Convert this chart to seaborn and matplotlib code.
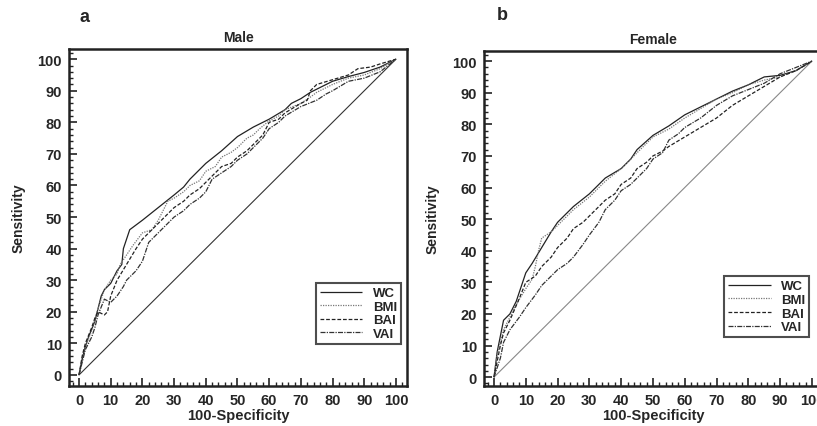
import matplotlib
matplotlib.use("Agg")
import matplotlib.pyplot as plt
import numpy as np
import pandas as pd
import seaborn as sns
from matplotlib.ticker import MultipleLocator

# ---- Male ROC curves (100-Specificity, Sensitivity) ----
male_wc_x = [0, 1, 2, 3, 5, 6, 7, 8, 10, 12, 13.5, 14, 15, 16, 20, 25, 30, 33, 35, 40, 45, 50, 55, 60, 65, 67, 70, 73, 76, 80, 85, 90, 95, 100]
male_wc_y = [0, 5, 9, 12, 17, 21, 25, 27, 29, 33, 35, 40, 43, 46, 49, 53, 57, 59.5, 62, 67, 71, 75.5, 78.5, 81, 84, 86, 87.5, 89.5, 91, 93, 94.5, 95.8, 97.5, 100]
male_bmi_x = [0, 1, 2, 4, 6, 8, 10, 12, 13, 15, 17, 20, 23, 25, 28, 30, 33, 35, 38, 40, 43, 45, 48, 50, 53, 55, 57, 60, 63, 65, 70, 73, 75, 80, 85, 90, 95, 100]
male_bmi_y = [0, 5, 9, 14, 21, 27, 30, 32, 35, 38, 41, 45, 46, 49, 55, 56, 58, 60, 61.5, 64.5, 66, 69, 70.5, 72, 75, 76, 78, 80.5, 82, 84, 86, 88, 89.5, 92, 94, 95, 97, 100]
male_bai_x = [0, 1, 2, 4, 5, 6, 8, 9, 10, 12, 15, 18, 20, 22, 25, 28, 30, 33, 35, 38, 40, 43, 45, 48, 50, 53, 55, 58, 60, 63, 65, 70, 72, 73, 75, 80, 85, 88, 92, 95, 100]
male_bai_y = [0, 6, 10, 15, 18, 20, 19, 20, 25, 30, 35, 40, 43, 45, 48, 51, 53, 55, 57, 59, 61, 64, 66, 67, 69, 71, 73, 76, 80, 81, 83, 86, 87, 90, 92, 93.5, 95, 97, 97.5, 98.5, 100]
male_vai_x = [0, 1, 2, 4, 5, 6, 8, 10, 12, 14, 15, 18, 20, 22, 25, 28, 30, 33, 35, 38, 40, 42, 45, 48, 50, 53, 55, 58, 60, 63, 65, 70, 75, 78, 80, 85, 90, 95, 100]
male_vai_y = [0, 4, 8, 12, 15, 19, 24, 23, 25, 28, 30, 33, 36, 42, 45, 48, 50, 52, 54, 56, 58, 62, 64, 66, 68, 70, 72, 75, 78, 80, 82, 85, 87, 89, 90, 93, 94, 96, 100]

# ---- Female ROC curves ----
fem_wc_x = [0, 1, 2, 3, 5, 7, 10, 12, 15, 18, 20, 25, 30, 35, 40, 43, 45, 50, 55, 60, 65, 70, 75, 80, 85, 90, 95, 100]
fem_wc_y = [0, 8, 13, 18, 20, 24, 33, 36, 41, 46, 49, 54, 58, 63, 66, 69, 72, 76.5, 79.5, 83, 85.5, 88, 90.5, 92.5, 95, 95.5, 97, 100]
fem_bmi_x = [0, 1, 2, 3, 5, 7, 10, 12, 13, 14, 15, 18, 20, 25, 30, 35, 40, 45, 50, 55, 60, 65, 70, 75, 80, 85, 90, 95, 100]
fem_bmi_y = [0, 7, 11, 15, 19, 23, 28, 31, 35, 40, 44, 46, 48, 53, 57, 62, 66, 71, 76, 78.5, 82, 85, 88, 90, 92.5, 94, 95, 97, 100]
fem_bai_x = [0, 1, 2, 3, 5, 8, 10, 13, 15, 18, 20, 23, 25, 28, 30, 33, 35, 38, 40, 43, 45, 48, 50, 53, 55, 60, 65, 70, 75, 80, 85, 90, 95, 100]
fem_bai_y = [0, 5, 10, 14, 18, 25, 30, 32, 35, 38, 41, 44, 47, 49, 51, 54, 56, 58, 61, 63, 66, 68, 70, 71.5, 73, 76, 79, 82, 86, 89, 92, 95, 97, 100]
fem_vai_x = [0, 1, 2, 3, 5, 8, 10, 13, 15, 18, 20, 23, 25, 28, 30, 33, 35, 38, 40, 43, 45, 48, 50, 53, 55, 58, 60, 65, 70, 75, 80, 85, 90, 95, 100]
fem_vai_y = [0, 3, 6, 11, 15, 19, 22, 26, 29, 32, 34, 36, 38, 42, 45, 49, 53, 56, 59, 61, 63, 66, 69, 71, 75, 77, 79, 82, 86, 89, 91, 93, 96, 98, 100]

curve_names = ["WC", "BMI", "BAI", "VAI"]
male_curves = [(male_wc_x, male_wc_y), (male_bmi_x, male_bmi_y), (male_bai_x, male_bai_y), (male_vai_x, male_vai_y)]
female_curves = [(fem_wc_x, fem_wc_y), (fem_bmi_x, fem_bmi_y), (fem_bai_x, fem_bai_y), (fem_vai_x, fem_vai_y)]

line_styles = {"WC": (0, ()), "BMI": (0, (1, 1)), "BAI": (0, (3, 1.5)), "VAI": (0, (4, 1, 1, 1))}
line_colors = {"WC": "#222222", "BMI": "#777777", "BAI": "#222222", "VAI": "#333333"}

sns.set_theme(style="ticks")
plt.rcParams['font.family'] = ['Liberation Sans', 'DejaVu Sans']
plt.rcParams['font.weight'] = 'bold'

fig = plt.figure(figsize=(8.17, 4.27), dpi=100)
ax1 = fig.add_axes([0.0845, 0.0937, 0.4137, 0.789])
ax2 = fig.add_axes([0.5924, 0.0937, 0.415, 0.7845])


def draw_panel(ax, curves, title, ylim, legend_anchor, diag_color):
    ax.plot([0, 100], [0, 100], color=diag_color, lw=0.8)
    for name, (xs, ys) in zip(curve_names, curves):
        df = pd.DataFrame({"x": xs, "y": ys})
        sns.lineplot(data=df, x="x", y="y", ax=ax, color=line_colors[name],
                     linestyle=line_styles[name], lw=0.9, label=name)
    ax.set_xlim(-3.15, 103.5)
    ax.set_ylim(*ylim)
    ax.xaxis.set_major_locator(MultipleLocator(10))
    ax.xaxis.set_minor_locator(MultipleLocator(2))
    ax.yaxis.set_major_locator(MultipleLocator(10))
    ax.yaxis.set_minor_locator(MultipleLocator(2))
    ax.tick_params(which="major", direction="in", length=6, width=1.2, labelsize=10.5, pad=5, color="#222222")
    ax.tick_params(which="minor", direction="in", length=3, width=1.0, color="#222222")
    for lab in ax.get_xticklabels() + ax.get_yticklabels():
        lab.set_fontweight("bold")
    for sp in ax.spines.values():
        sp.set_linewidth(1.8)
        sp.set_color("#222222")
    ax.set_title(title, fontsize=10, fontweight="bold", pad=6)
    ax.set_xlabel("100-Specificity", fontsize=10.5, fontweight="bold", labelpad=1)
    ax.set_ylabel("Sensitivity", fontsize=10, fontweight="bold", labelpad=9)
    leg = ax.legend(loc="lower right", bbox_to_anchor=legend_anchor, frameon=True, fancybox=False,
                    edgecolor="#222222", fontsize=9.5, handlelength=3.2, handletextpad=0.8,
                    borderpad=0.3, labelspacing=0.1, borderaxespad=0)
    leg.get_frame().set_linewidth(1.5)
    for t in leg.get_texts():
        t.set_fontweight("bold")


draw_panel(ax1, male_curves, "Male", (-3.5, 103.2), (0.982, 0.125), "#333333")
draw_panel(ax2, female_curves, "Female", (-2.8, 103.2), (0.959, 0.146), "#888888")

fig.text(80 / 817, 1 - 17 / 427, "a", fontsize=13, fontweight="bold", va="center", ha="left")
fig.text(497 / 817, 1 - 16 / 427, "b", fontsize=13, fontweight="bold", va="center", ha="left")

fig.savefig("out.png", dpi=100)
